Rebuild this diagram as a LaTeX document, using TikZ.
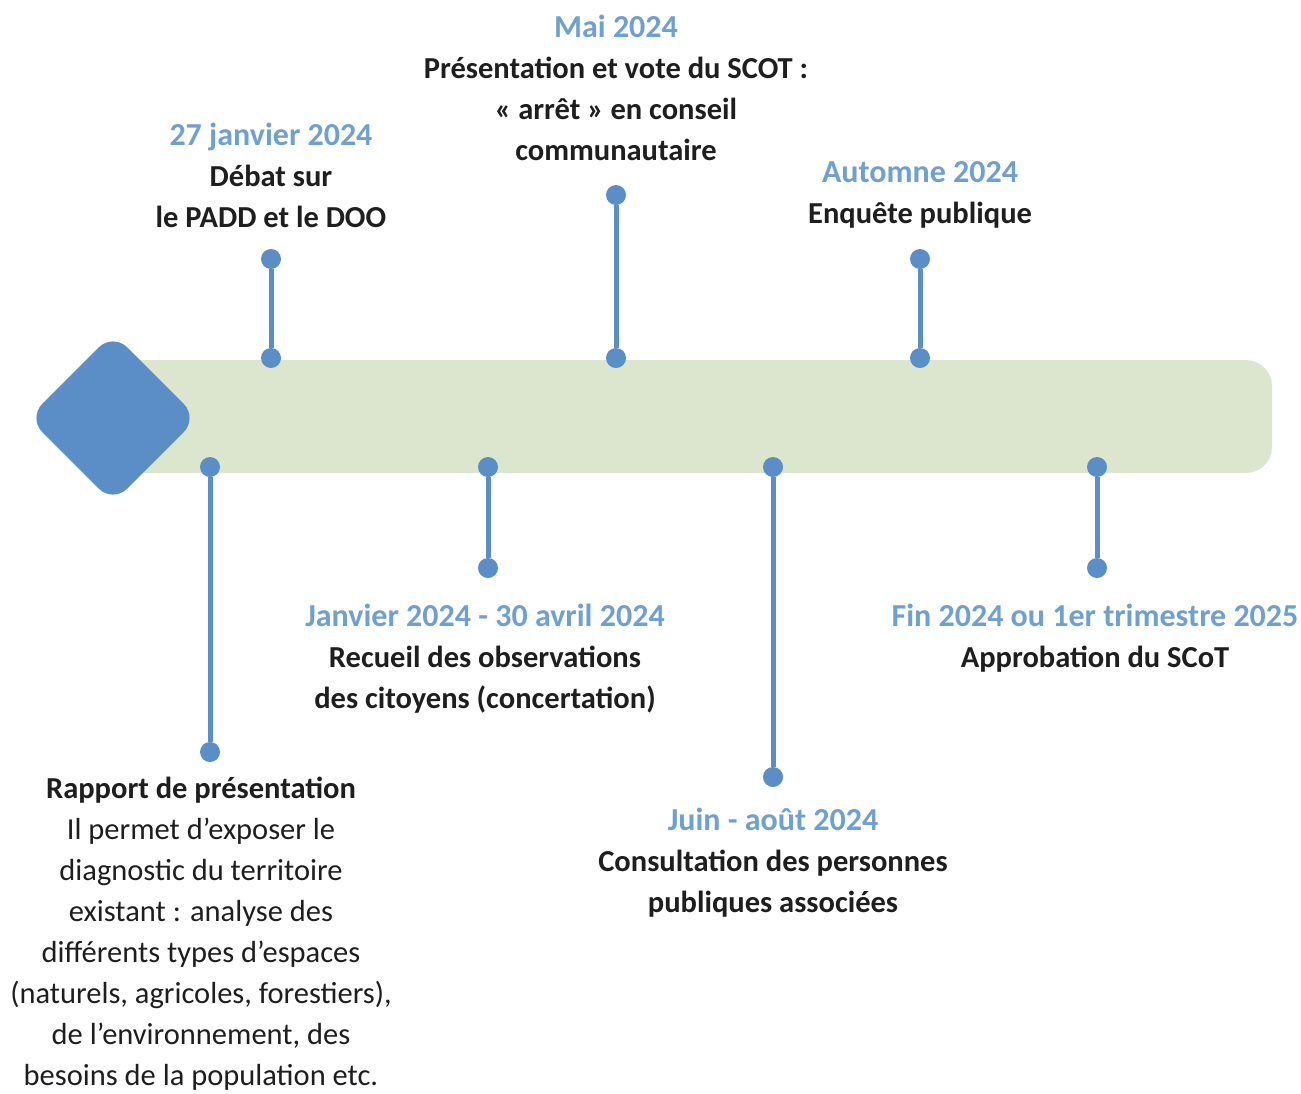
\documentclass[tikz,border=0pt]{standalone}
\usepackage{fontspec}
\setmainfont{Carlito}
\usetikzlibrary{positioning}
\definecolor{stemblue}{HTML}{5B8EC6}
\definecolor{dateblue}{HTML}{6FA0CF}
\definecolor{bargreen}{HTML}{DCE6CE}
\definecolor{textdark}{HTML}{1E1E1E}

\tikzset{
    dot/.style={circle, fill=stemblue, inner sep=0pt, minimum size=20pt},
    stem/.style={stemblue, line width=5pt},
    evtext/.style={anchor=north, align=center, inner sep=0pt, text=textdark,
        font=\fontsize{30.5}{41}\selectfont\bfseries},
}
\newcommand{\datum}[1]{\strut{\fontsize{32}{41}\selectfont\color{dateblue}#1}}

\begin{document}
\begin{tikzpicture}[x=1pt,y=-1pt]
    \useasboundingbox (0,0) rectangle (1301,1093);

    \fill[bargreen, rounded corners=26pt] (110,360) rectangle (1272,473);
    \node[rectangle, fill=stemblue, minimum size=120pt, rounded corners=20pt,
          rotate=45] (start) at (113,418) {};

    \foreach \n/\x/\ya/\yb in {padd/271/259/358, arret/616/195/358,
        enquete/920/259/358, rapport/210/467/752, recueil/488/467/568,
        consult/773/467/777, approb/1097/467/568} {
        \node[dot] (\n-a) at (\x,\ya) {};
        \node[dot] (\n-b) at (\x,\yb) {};
        \draw[stem] (\n-a) -- (\n-b);
    }

    % above the bar
    \node[evtext] (padd) at (271,117) {\datum{27 janvier 2024}\\ Débat sur\\ le PADD et le DOO};
    \node[evtext] (arret) at (616,9) {\datum{Mai 2024}\\ Présentation et vote du SCOT :\\
        « arrêt » en conseil\\ communautaire};
    \node[evtext] (enquete) at (920,154) {\datum{Automne 2024}\\ Enquête publique};

    % below the bar
    \node[evtext] (rapport) at (201,770) {\strut Rapport de présentation\\
        \mdseries Il permet d’exposer le\\ \mdseries diagnostic du territoire\\
        \mdseries existant : analyse des\\ \mdseries différents types d’espaces\\
        \mdseries (naturels, agricoles, forestiers),\\ \mdseries de l’environnement, des\\
        \mdseries besoins de la population etc.};
    \node[evtext] (recueil) at (485,598) {\datum{Janvier 2024 - 30 avril 2024}\\
        Recueil des observations\\ des citoyens (concertation)};
    \node[evtext] (consult) at (773,802) {\datum{Juin - août 2024}\\
        Consultation des personnes\\ publiques associées};
    \node[evtext] (approb) at (1095,598) {\datum{Fin 2024 ou 1er trimestre 2025}\\
        Approbation du SCoT};
\end{tikzpicture}
\end{document}
